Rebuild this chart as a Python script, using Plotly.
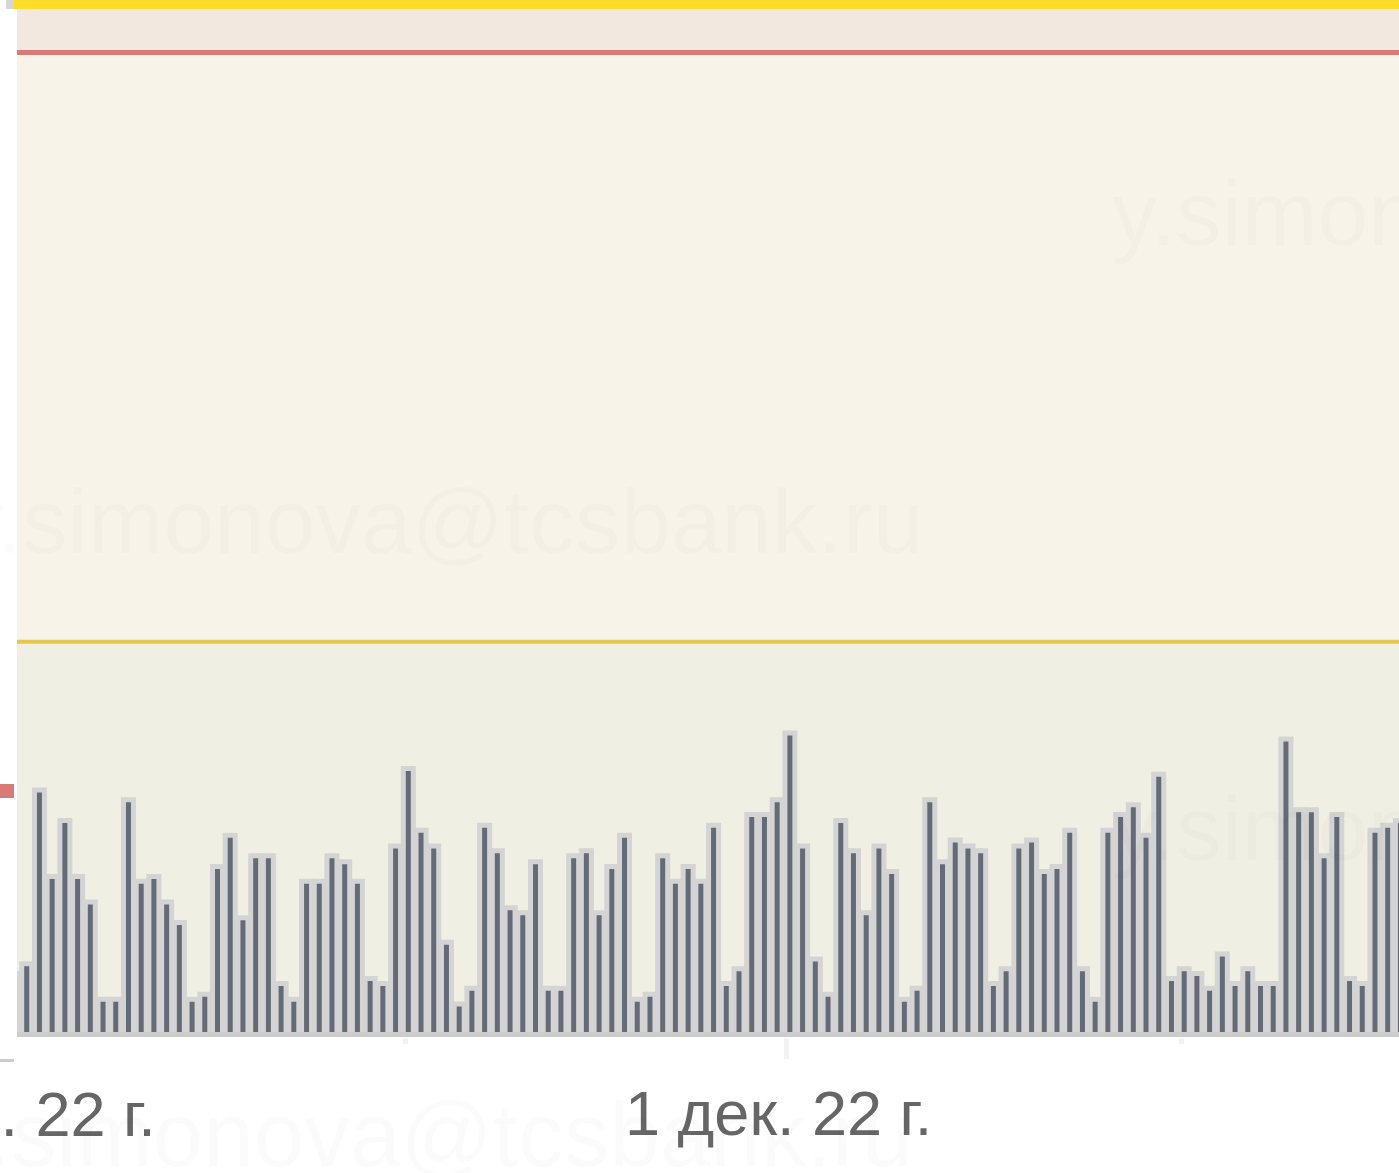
import pandas as pd
import plotly.graph_objects as go

# ---- data ----
values = [
    6.2, 7.2, 24.9, 16.1, 21.8, 16.1, 13.5, 3.6, 3.6, 23.9, 15.6, 16.1, 13.5, 11.4, 3.6, 4.1,
    17.1, 20.3, 11.9, 18.2, 18.2, 5.2, 3.6,
    15.6, 15.6, 18.2, 17.6, 15.6, 5.7, 5.2, 19.2, 27.1, 20.8, 19.2, 9.4, 3.1, 4.7, 21.3, 18.7,
    12.9, 12.4, 17.6, 4.7, 4.7, 18.2, 18.7, 12.4, 17.1, 20.3, 3.6, 4.1, 18.2, 15.6, 17.1, 15.6,
    21.3, 5.2, 6.7, 22.4, 22.4, 23.9, 30.7, 19.2, 7.7, 4.1, 21.8, 18.7, 12.4, 19.2, 16.6, 3.6,
    4.7, 23.9, 17.6, 19.8, 19.2, 18.7, 5.2,
    6.7, 19.2, 19.8, 16.6, 17.1, 20.8, 6.7, 3.6, 20.8, 22.4, 23.4, 20.3, 26.5, 5.7, 6.7, 6.2,
    4.7, 8.2, 5.2, 6.7, 5.2, 5.2, 30.1, 22.9, 22.9, 18.2, 22.4, 5.7, 5.2, 20.8, 21.3, 21.8,
]
dates = pd.date_range("2022-10-31 15:00", periods=len(values), freq="12h")

warn_level = 40      # yellow threshold
crit_level = 100     # red threshold

tick_vals = ["2022-12-01"]
tick_text = ["1 дек. 22 г."]
minor_tick_vals = ["2022-11-16", "2022-12-16 12:00"]
prev_label = "1 ноя. 22 г."
next_label = "1 янв. 23 г."
watermark = "y.simonova@tcsbank.ru"

# ---- layout geometry ----
W, H = 1399, 1173
ML, MR, MT, MB = 17, 0, 0, 136
PW, PH = W - ML - MR, H - MT - MB
Y_RANGE = [-0.255, 105.35]
LABEL_FONT = dict(family="Liberation Sans, Arial", size=63, color="#666666")


def px_x(px):
    return (px - ML) / PW


def px_y(py):
    return (MT + PH - py) / PH


fig = go.Figure()
fig.add_trace(go.Bar(
    x=dates, y=values,
    width=9.43 * 3600 * 1000,
    marker=dict(color="#646a76", line=dict(color="#d4d4d4", width=5)),
    hoverinfo="skip",
))

shapes = [
    # bands
    dict(type="rect", xref="paper", yref="y", x0=0, x1=1, y0=crit_level, y1=Y_RANGE[1],
         fillcolor="#f2e8df", line_width=0, layer="below"),
    dict(type="rect", xref="paper", yref="y", x0=0, x1=1, y0=warn_level, y1=crit_level,
         fillcolor="#f7f3e8", line_width=0, layer="below"),
    dict(type="rect", xref="paper", yref="y", x0=0, x1=1, y0=Y_RANGE[0], y1=warn_level,
         fillcolor="#eff0e3", line_width=0, layer="below"),
    # threshold lines
    dict(type="line", xref="paper", yref="y", x0=0, x1=1, y0=crit_level, y1=crit_level,
         line=dict(color="#d67b76", width=5), layer="below"),
    dict(type="line", xref="paper", yref="y", x0=0, x1=1, y0=warn_level, y1=warn_level,
         line=dict(color="#e6c752", width=4), layer="below"),
    # baseline
    dict(type="line", xref="paper", yref="y", x0=0, x1=1, y0=0, y1=0,
         line=dict(color="#cccccc", width=5), layer="above"),
    # top yellow bar
    dict(type="rect", xref="paper", yref="paper", x0=px_x(14), x1=1, y0=px_y(9), y1=1,
         fillcolor="#ffdd2d", line_width=0, layer="above"),
    # small marks in the left margin
    dict(type="rect", xref="paper", yref="paper", x0=px_x(0), x1=px_x(14), y0=px_y(798), y1=px_y(784),
         fillcolor="#d87b76", line_width=0, layer="above"),
    dict(type="rect", xref="paper", yref="paper", x0=px_x(0), x1=px_x(14), y0=px_y(1062), y1=px_y(1059),
         fillcolor="#cccccc", line_width=0, layer="above"),
    dict(type="rect", xref="paper", yref="paper", x0=px_x(6), x1=px_x(14), y0=px_y(9), y1=1,
         fillcolor="#d6d6d6", line_width=0, layer="above"),
]

annotations = [
    dict(text=prev_label, xref="paper", yref="paper", x=px_x(158), y=px_y(1077),
         xanchor="right", yanchor="top", showarrow=False, font=LABEL_FONT),
    dict(text=next_label, xref="paper", yref="paper", x=px_x(1393), y=px_y(1077),
         xanchor="left", yanchor="top", showarrow=False, font=LABEL_FONT),
]
for (lx, cy) in [(1110, 214), (-44, 522), (1110, 828), (-55, 1134)]:
    annotations.append(dict(
        text=watermark, xref="paper", yref="paper", x=px_x(lx), y=px_y(cy),
        xanchor="left", yanchor="middle", showarrow=False,
        font=dict(family="Liberation Sans, Arial", size=91, color="rgba(0,0,0,0.017)"),
    ))

fig.update_layout(
    width=W, height=H,
    margin=dict(l=ML, r=MR, t=MT, b=MB, pad=0),
    template="none",
    paper_bgcolor="white", plot_bgcolor="white",
    showlegend=False,
    shapes=shapes,
    annotations=annotations,
    xaxis=dict(
        type="date",
        range=["2022-10-31 17:50", "2022-12-25 01:40"],
        tickmode="array", tickvals=tick_vals, ticktext=tick_text,
        ticks="outside", ticklen=21, tickwidth=5, tickcolor="#f3f3f3",
        tickfont=LABEL_FONT,
        ticklabelstandoff=0,
        ticklabelshift=-8,
        ticklabeloverflow="allow",
        showgrid=False, zeroline=False, showline=False, automargin=False,
        minor=dict(tickmode="array", tickvals=minor_tick_vals, ticks="outside",
                   ticklen=6, tickwidth=5, tickcolor="#f3f3f3", showgrid=False),
    ),
    yaxis=dict(
        range=Y_RANGE, showgrid=False, zeroline=False, showline=False,
        showticklabels=False, ticks="", automargin=False,
    ),
)

fig.write_html(
    "out.html",
    config={"displayModeBar": False},
    post_script="document.body.style.margin='0';document.body.style.padding='0';"
                "document.body.style.overflow='hidden';"
                "document.documentElement.style.overflow='hidden';",
)
